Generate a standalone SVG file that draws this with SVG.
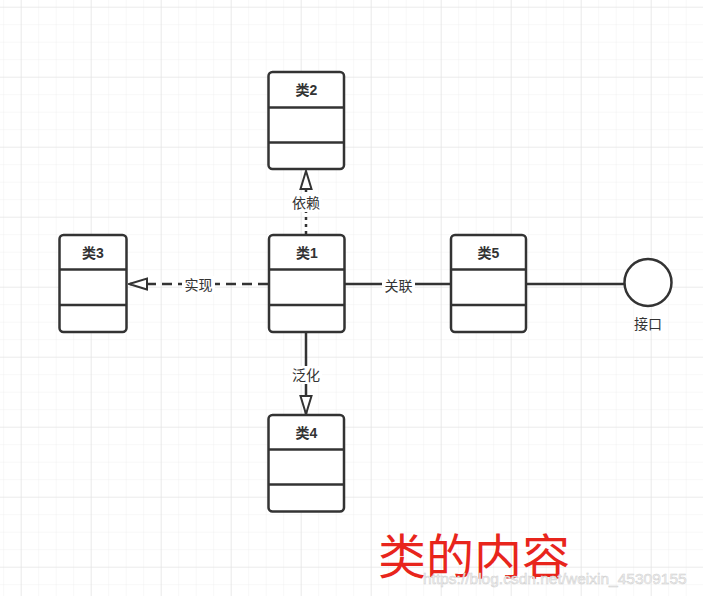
<svg xmlns="http://www.w3.org/2000/svg" width="703" height="596" viewBox="0 0 703 596">
  <defs>
    <pattern id="minor" patternUnits="userSpaceOnUse" x="3.2" y="6.7" width="17.5" height="17.5">
      <path d="M 0 0 H 17.5 M 0 0 V 17.5" fill="none" stroke="#efefef" stroke-width="1"/>
    </pattern>
    <pattern id="major" patternUnits="userSpaceOnUse" x="20.7" y="6.7" width="70" height="70">
      <path d="M 0 0 H 70 M 0 0 V 70" fill="none" stroke="#e2e2e2" stroke-width="1.2"/>
    </pattern>
    <marker id="openTri" viewBox="0 0 20 20" refX="19" refY="10" markerWidth="20" markerHeight="20" markerUnits="userSpaceOnUse" orient="auto">
      <path d="M 1 4.5 L 19 10 L 1 15.5 Z" fill="#fff" stroke="#333" stroke-width="2" stroke-linejoin="miter"/>
    </marker>
    <style>
      .box { fill: #fff; stroke: #333; stroke-width: 2.5; }
      .div { stroke: #333; stroke-width: 2.5; }
      .cls { font-family: "Liberation Sans", "Noto Sans CJK SC", sans-serif; font-weight: bold; font-size: 14px; fill: #333; text-anchor: middle; }
      .lbl { font-family: "Liberation Sans", "Noto Sans CJK SC", sans-serif; font-size: 14px; fill: #333; text-anchor: middle; }
      .conn { fill: none; stroke: #333; stroke-width: 2.5; }
      .bg { fill: #fff; }
    </style>
  </defs>
  <rect width="703" height="596" fill="#fff"/>
  <rect width="703" height="596" fill="url(#minor)"/>
  <rect width="703" height="596" fill="url(#major)"/>

  <g id="connectors">
    <!-- dependency 类1 -> 类2 -->
    <line class="conn" x1="306" y1="234" x2="306" y2="171" stroke-dasharray="3 4" marker-end="url(#openTri)"/>
    <rect class="bg" x="290" y="194" width="32" height="18"/>
    <text class="lbl" x="306" y="208">依赖</text>
    <!-- realization 类1 -> 类3 -->
    <line class="conn" x1="268" y1="284" x2="129" y2="284" stroke-dasharray="10 6" marker-end="url(#openTri)"/>
    <rect class="bg" x="182" y="276" width="33" height="18"/>
    <text class="lbl" x="198.5" y="290">实现</text>
    <!-- generalization 类1 -> 类4 -->
    <line class="conn" x1="306" y1="332" x2="306" y2="414" marker-end="url(#openTri)"/>
    <rect class="bg" x="290" y="366" width="32" height="18"/>
    <text class="lbl" x="306" y="380">泛化</text>
    <!-- association 类1 - 类5 -->
    <line class="conn" x1="345" y1="284" x2="451" y2="284"/>
    <rect class="bg" x="382" y="276" width="33" height="18"/>
    <text class="lbl" x="398.5" y="291">关联</text>
    <!-- 类5 - 接口 -->
    <line class="conn" x1="526" y1="284" x2="624" y2="284"/>
  </g>

  <g id="class2">
    <rect class="box" x="268.5" y="72" width="75.5" height="97" rx="4"/>
    <line class="div" x1="268.5" y1="107.5" x2="344" y2="107.5"/>
    <line class="div" x1="268.5" y1="142.5" x2="344" y2="142.5"/>
    <text class="cls" x="306.5" y="95">类2</text>
  </g>
  <g id="class3">
    <rect class="box" x="59.5" y="235" width="67" height="97" rx="4"/>
    <line class="div" x1="59.5" y1="269.5" x2="126.5" y2="269.5"/>
    <line class="div" x1="59.5" y1="305" x2="126.5" y2="305"/>
    <text class="cls" x="93" y="258">类3</text>
  </g>
  <g id="class1">
    <rect class="box" x="269" y="235" width="75.5" height="97" rx="4"/>
    <line class="div" x1="269" y1="269.5" x2="344.5" y2="269.5"/>
    <line class="div" x1="269" y1="305" x2="344.5" y2="305"/>
    <text class="cls" x="307" y="258">类1</text>
  </g>
  <g id="class5">
    <rect class="box" x="451" y="235" width="75" height="97" rx="4"/>
    <line class="div" x1="451" y1="269.5" x2="526" y2="269.5"/>
    <line class="div" x1="451" y1="305" x2="526" y2="305"/>
    <text class="cls" x="488.5" y="258">类5</text>
  </g>
  <g id="class4">
    <rect class="box" x="268.5" y="415" width="75.5" height="96.5" rx="4"/>
    <line class="div" x1="268.5" y1="449.5" x2="344" y2="449.5"/>
    <line class="div" x1="268.5" y1="484.5" x2="344" y2="484.5"/>
    <text class="cls" x="306.5" y="438">类4</text>
  </g>
  <g id="interface">
    <circle cx="648" cy="282.5" r="23.5" fill="#fff" stroke="#333" stroke-width="2.5"/>
    <text class="lbl" x="648" y="329">接口</text>
  </g>

  <g id="title">
    <text x="378" y="574" font-family="'Noto Sans CJK SC', sans-serif" font-size="48" fill="#e8251c">类的内容</text>
  </g>
  <g id="watermark">
    <text x="423" y="584" font-family="'Liberation Sans', sans-serif" font-size="15.5" fill="#f2f2f2" stroke="#cfcfcf" stroke-width="0.5">https://blog.csdn.net/weixin_45309155</text>
  </g>
</svg>
